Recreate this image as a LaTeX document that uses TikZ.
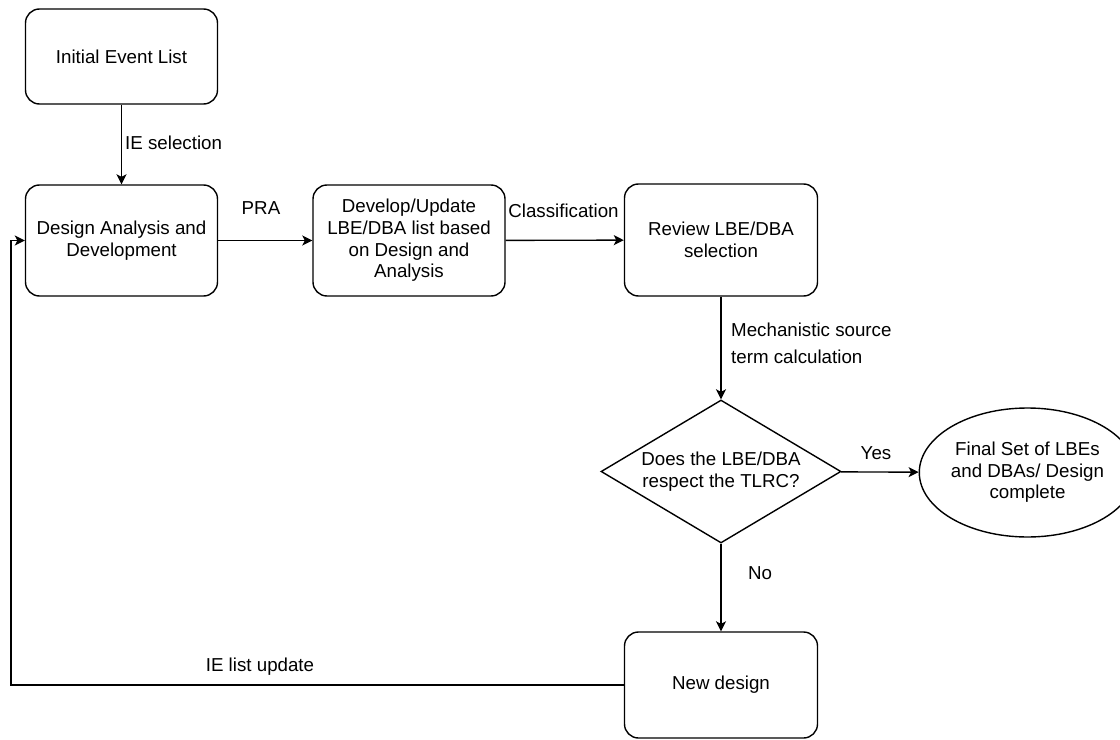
\documentclass[tikz,border=0pt]{standalone}
\usepackage{fontspec}
\setmainfont{Liberation Sans}
\usetikzlibrary{shapes.geometric,arrows.meta}

\tikzset{
  base/.style={draw=black, line width=1.4bp, align=center, inner sep=0pt,
    font=\fontsize{18.8}{21.7}\selectfont},
  procbox/.style={base, rectangle, rounded corners=14bp},
  decision/.style={base, diamond, aspect=1.68, minimum width=240bp, minimum height=143bp},
  terminal/.style={base, ellipse, minimum width=181bp, minimum height=129bp},
  arr/.style={draw=black, line width=1.4bp, -{Stealth[length=10bp,width=10bp,inset=2.5bp]}},
  lbl/.style={inner sep=0pt, font=\fontsize{18.8}{21.7}\selectfont}
}

\begin{document}
\begin{tikzpicture}[x=1bp, y=-1bp]
  \useasboundingbox (0,0) rectangle (1120,740);

  % process boxes
  \node[procbox, minimum width=192bp, minimum height=95bp]  (init) at (121.5,56.5) {Initial Event List};
  \node[procbox, minimum width=192bp, minimum height=111bp] (dad)  at (121.5,240.5) {Design Analysis and\\Development};
  \node[procbox, minimum width=192bp, minimum height=111bp] (dev)  at (409,240.5) {Develop/Update\\LBE/DBA list based\\on Design and\\Analysis};
  \node[procbox, minimum width=193bp, minimum height=112bp] (rev)  at (721,240) {Review LBE/DBA\\selection};

  % decision and outcome
  \node[decision] (dia) at (721,471.5) {Does the LBE/DBA\\respect the TLRC?};
  \node[terminal] (fin) at (1027.5,472.5) {Final Set of LBEs\\and DBAs/ Design\\complete};
  \node[procbox, minimum width=193bp, minimum height=106bp] (nd) at (721,685) {New design};

  % connectors
  \draw[arr] (init) -- (dad);
  \draw[arr] (dad) -- (dev);
  \draw[arr] (dev) -- (rev);
  \draw[arr] (rev) -- (dia);
  \draw[arr] (dia) -- (fin);
  \draw[arr] (dia) -- (nd);
  \coordinate (fb) at (11,685);
  \draw[arr] (nd.west) -- (fb) |- (dad.west);

  % connector labels
  \node[lbl, anchor=west] (l1) at (125,143) {IE selection};
  \node[lbl] (l2) at (261,208) {PRA};
  \node[lbl] (l3) at (563.5,211) {Classification};
  \node[lbl, anchor=west, align=left, font=\fontsize{18.8}{27}\selectfont] (l4) at (731,343.5) {Mechanistic source\\term calculation};
  \node[lbl] (l5) at (876,453) {Yes};
  \node[lbl] (l6) at (760,573) {No};
  \node[lbl] (l7) at (260,667) {IE list update};
\end{tikzpicture}
\end{document}
